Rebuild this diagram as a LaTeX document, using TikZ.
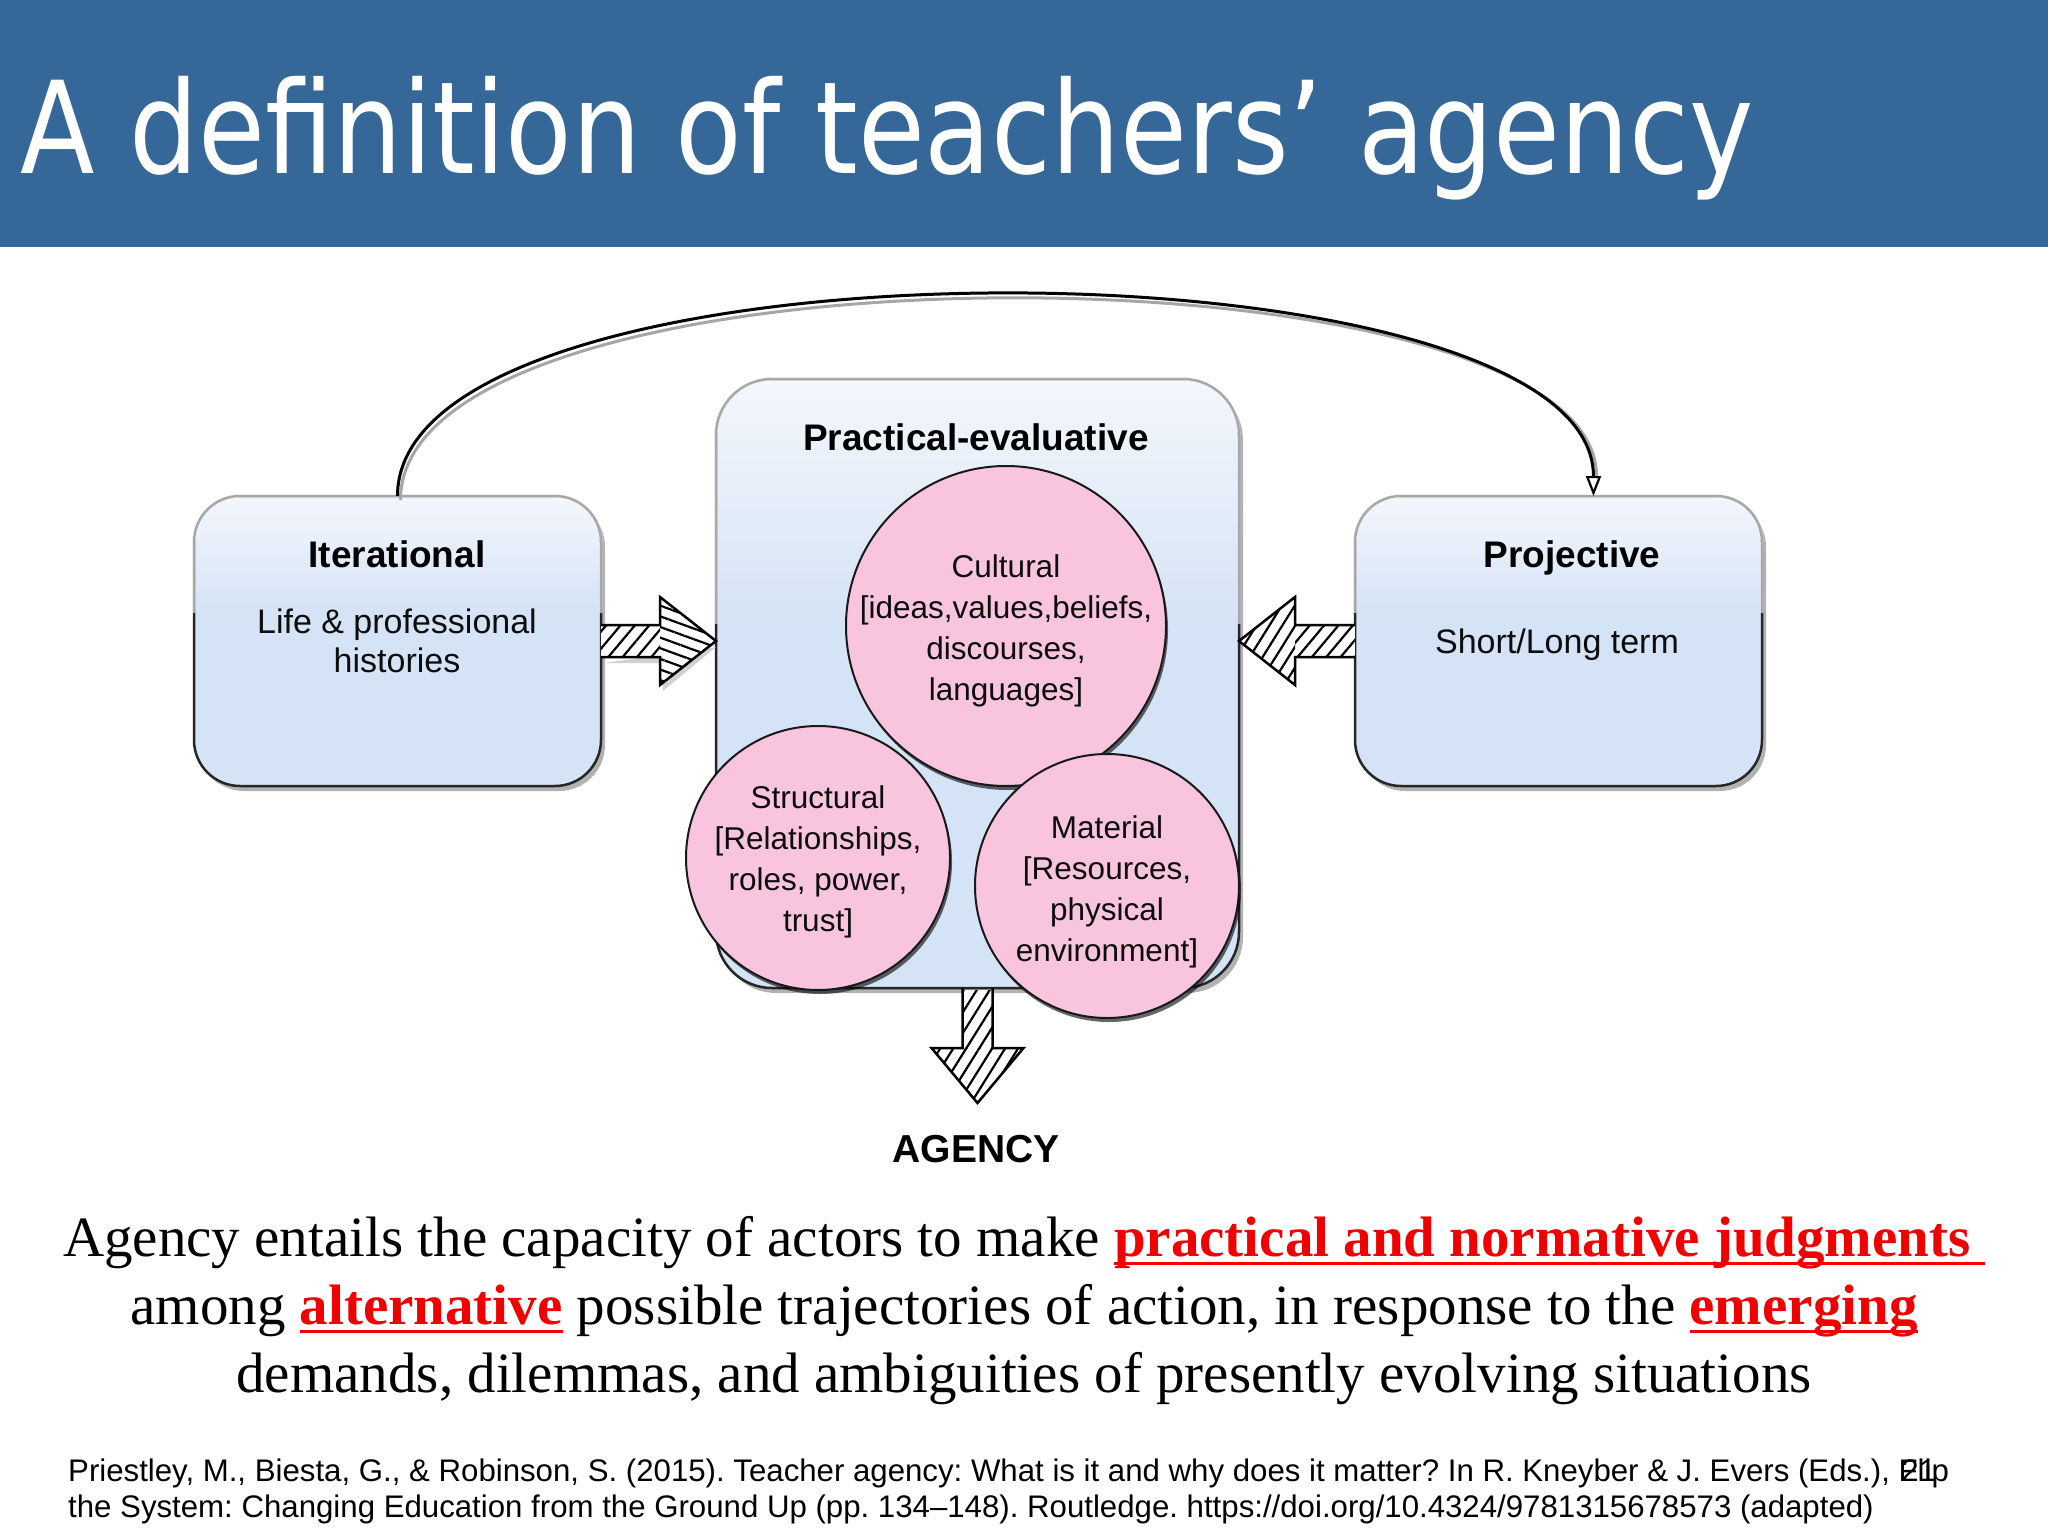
\documentclass[tikz,border=0pt]{standalone}
\usepackage{fontspec}
\usepackage{graphicx}
\usetikzlibrary{calc,shadows,patterns.meta,arrows.meta}
\setmainfont{Liberation Serif}
\newfontfamily\hv{Liberation Sans}
\newfontfamily\dv{DejaVu Sans}
\definecolor{hdr}{RGB}{53,103,153}
\definecolor{boxblue}{RGB}{213,227,246}
\definecolor{boxtop}{RGB}{244,247,252}
\definecolor{pinkc}{RGB}{248,196,222}
\definecolor{redc}{RGB}{240,0,0}
\pgfdeclareverticalshading{gloss}{100bp}{color(0bp)=(boxblue); color(25bp)=(boxblue); color(55bp)=(boxblue); color(59bp)=(boxblue!80!boxtop); color(75bp)=(boxtop); color(100bp)=(boxtop)}
\newsavebox\hlbox
\newcommand{\hlred}[1]{{\color{redc}\bfseries\sbox\hlbox{#1}\rlap{\rule[-9pt]{\wd\hlbox}{3pt}}\usebox\hlbox}}
\frenchspacing
\begin{document}
\begin{tikzpicture}[x=1pt,y=-1pt,
  box/.style={rectangle, rounded corners=46pt, draw=black!85, line width=2.5pt, shade, shading=gloss,
    minimum width=407pt, minimum height=290pt, inner sep=0pt, outer sep=0pt,
    drop shadow={shadow xshift=4pt, shadow yshift=-5pt, opacity=.3, fill=black}},
  circ/.style={circle, draw=black!90, line width=2pt, fill=pinkc, minimum size=264pt, inner sep=0pt, outer sep=0pt,
    drop shadow={shadow xshift=2pt, shadow yshift=-4pt, opacity=.6, fill=black}},
  ctxt/.style={inner sep=0pt, align=center, font=\hv\fontsize{31.5}{41}\selectfont, text=black!95},
  btxt/.style={inner sep=0pt, font=\hv\bfseries\fontsize{37}{42}\selectfont, text=black},
  ntxt/.style={inner sep=0pt, font=\hv\fontsize{34}{39}\selectfont, text=black!95},
  para/.style={inner sep=0pt, anchor=base, font=\fontsize{57}{68}\selectfont},
  reft/.style={inner sep=0pt, anchor=base west, font=\hv\fontsize{31.2}{36}\selectfont},
  gloss line/.style={white, opacity=.6, line width=3.2pt},
  hatchA/.style={pattern={Lines[angle=50,distance=11pt,line width=2.2pt]}},
  hatchB/.style={pattern={Lines[angle=-20,distance=10pt,line width=2.2pt]}},
  hatchC/.style={pattern={Lines[angle=58,distance=11pt,line width=2.2pt]}},
  outline/.style={line width=2.5pt, line join=miter},
  shadowfill/.style={fill=black!18}
]
\useasboundingbox (0,0) rectangle (2048,1536);
\fill[white] (0,0) rectangle (2048,1536);
% header
\fill[hdr] (0,0) rectangle (2048,247);
\node[anchor=base west, inner sep=0pt, text=white, font=\dv\fontsize{128}{150}\selectfont] (title) at (20,174)
  {\scalebox{0.85}[1]{A definition of teachers’ agency}};

% boxes
\node[box] (it) at (397.5,641) {};
\node[box] (proj) at (1558.5,641) {};
\node[box, minimum width=523pt, minimum height=609pt, rounded corners=56pt] (pe) at (977.5,683.5) {};

% gloss on upper borders
\begin{scope}
  \clip (150,470) rectangle (1800,612);
  \draw[gloss line, rounded corners=46pt] (it.north west) rectangle (it.south east);
  \draw[gloss line, rounded corners=46pt] (proj.north west) rectangle (proj.south east);
\end{scope}
\begin{scope}
  \clip (690,350) rectangle (1270,623);
  \draw[gloss line, rounded corners=56pt] (pe.north west) rectangle (pe.south east);
\end{scope}

% box texts
\node[btxt, anchor=base] (itT) at (397,567) {Iterational};
\node[ntxt, anchor=base] (itD1) at (397,633) {Life \& professional};
\node[ntxt, anchor=base] (itD2) at (397,672) {histories};
\node[btxt, anchor=base] (projT) at (1572,567) {Projective};
\node[ntxt, anchor=base] (projD) at (1557,653) {Short/Long term};
\node[btxt, anchor=base] (peT) at (976,450) {Practical-evaluative};

% circles
\node[circ, minimum size=320pt] (cult) at (1006,626) {};
\node[circ] (struc) at (818,858) {};
\node[circ] (mat) at (1107,886) {};
\node[ctxt] (cultT) at ($(cult.center)+(0,5)$) {Cultural\\{[}ideas,values,beliefs,\\discourses,\\languages{]}};
\node[ctxt] (strucT) at ($(struc.center)+(0,4)$) {Structural\\{[}Relationships,\\roles, power,\\trust{]}};
\node[ctxt] (matT) at ($(mat.center)+(0,6)$) {Material\\{[}Resources,\\physical\\environment{]}};

% left hatched arrow (Iterational -> Practical-evaluative)
\coordinate (la) at (it.east);
\coordinate (lt) at (pe.west |- it.east);
\fill[shadowfill] ($(la)+(3,22)$) -- ($(lt)+(-53,22)$) -- ($(lt)+(-53,50)$) -- ($(lt)+(0,6)$) -- cycle;
\fill[white] ($(la)+(0,-16)$) rectangle ($(lt)+(-56,16)$);
\fill[white] ($(lt)+(-56,-44)$) -- (lt) -- ($(lt)+(-56,44)$) -- cycle;
\fill[hatchA] ($(la)+(0,-16)$) rectangle ($(lt)+(-56,16)$);
\fill[hatchB] ($(lt)+(-56,-44)$) -- (lt) -- ($(lt)+(-56,44)$) -- cycle;
\draw[outline] ($(la)+(0,-16)$) -- ($(lt)+(-56,-16)$) -- ($(lt)+(-56,-44)$) -- (lt) -- ($(lt)+(-56,44)$) -- ($(lt)+(-56,16)$) -- ($(la)+(0,16)$);

% right hatched arrow (Projective -> Practical-evaluative)
\coordinate (ra) at (proj.west);
\coordinate (rt) at (pe.east |- proj.west);
\fill[white] ($(ra)+(0,-16)$) rectangle ($(rt)+(56,16)$);
\fill[white] ($(rt)+(56,-44)$) -- (rt) -- ($(rt)+(56,44)$) -- cycle;
\fill[hatchA] ($(ra)+(0,-16)$) rectangle ($(rt)+(56,16)$);
\fill[hatchC] ($(rt)+(56,-44)$) -- (rt) -- ($(rt)+(56,44)$) -- cycle;
\draw[outline] ($(ra)+(0,-16)$) -- ($(rt)+(56,-16)$) -- ($(rt)+(56,-44)$) -- (rt) -- ($(rt)+(56,44)$) -- ($(rt)+(56,16)$) -- ($(ra)+(0,16)$);

% down hatched arrow (Practical-evaluative -> AGENCY)
\coordinate (da) at (pe.south);
\coordinate (dtip) at (977.5,1103);
\fill[white] ($(da)+(-15,2)$) rectangle ($(dtip)+(15,-55)$);
\fill[white] ($(dtip)+(-46,-55)$) -- (dtip) -- ($(dtip)+(46,-55)$) -- cycle;
\fill[hatchC] ($(da)+(-15,2)$) rectangle ($(dtip)+(15,-55)$);
\fill[hatchC] ($(dtip)+(-46,-55)$) -- (dtip) -- ($(dtip)+(46,-55)$) -- cycle;
\draw[outline] ($(da)+(-15,0)$) -- ($(dtip)+(-15,-55)$) -- ($(dtip)+(-46,-55)$) -- (dtip) -- ($(dtip)+(46,-55)$) -- ($(dtip)+(15,-55)$) -- ($(da)+(15,0)$);

\node[btxt, font=\hv\bfseries\fontsize{39}{45}\selectfont, anchor=base] (agency) at (976,1162) {AGENCY};

% curved connector Iterational -> Projective
\coordinate (cend) at ($(proj.north)+(35,0)$);
\draw[black!35, line width=3pt] ($(it.north)+(3,4)$) .. controls ($(it.north)+(3,-264)$) and ($(cend)+(3,-259)$) .. ($(cend)+(3,-20)$);
\draw[line width=3pt, -{Triangle[open, length=20pt, width=15pt, line width=2.2pt]}]
  (it.north) .. controls ($(it.north)+(0,-270)$) and ($(cend)+(0,-265)$) .. (cend);

% definition text
\node[para] (p1) at (1024,1256) {Agency entails the capacity of actors to make \hlred{practical and normative judgments\ }};
\node[para] (p2) at (1024,1324) {among \hlred{alternative} possible trajectories of action, in response to the \hlred{emerging}};
\node[para] (p3) at (1024,1392) {demands, dilemmas, and ambiguities of presently evolving situations};

% reference
\node[reft] (r1) at (68,1481) {Priestley, M., Biesta, G., \& Robinson, S. (2015). Teacher agency: What is it and why does it matter? In R. Kneyber \& J. Evers (Eds.), Flip};
\node[reft] (r2) at (68,1517) {the System: Changing Education from the Ground Up (pp. 134–148). Routledge. https://doi.org/10.4324/9781315678573 (adapted)};
\node[reft] (sn) at ($(r1.base east)+(-48,0)$) {21};
\end{tikzpicture}
\end{document}
